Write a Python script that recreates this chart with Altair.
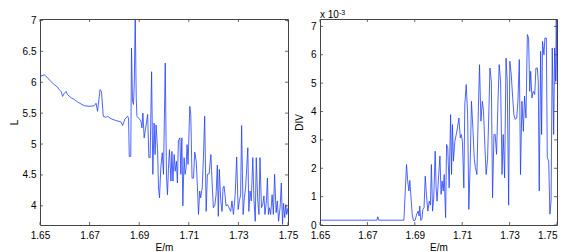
import altair as alt
import pandas as pd

# ---- data ----
e_left = [1.6500, 1.6505, 1.6517, 1.6531, 1.6544, 1.6558, 1.6571, 1.6578, 1.6585, 1.6591,
          1.6598, 1.6605, 1.6611, 1.6625, 1.6638, 1.6652, 1.6665, 1.6679, 1.6699, 1.6719,
          1.6726, 1.6732, 1.6742, 1.6748, 1.6755, 1.6766, 1.6772, 1.6786, 1.6806, 1.6826,
          1.6833, 1.6842, 1.6853, 1.6857, 1.6860, 1.6866, 1.6869, 1.6873, 1.6877, 1.6880,
          1.6884, 1.6888, 1.6891, 1.6900, 1.6907, 1.6911, 1.6915, 1.6920, 1.6928, 1.6934,
          1.6939, 1.6944, 1.6950, 1.6955, 1.6960, 1.6964, 1.6968, 1.6974, 1.6978, 1.6982,
          1.6987, 1.6993, 1.6998, 1.7005, 1.7010, 1.7014, 1.7018, 1.7022, 1.7028, 1.7032,
          1.7036, 1.7041, 1.7045, 1.7050, 1.7054, 1.7058, 1.7064, 1.7068, 1.7072, 1.7076,
          1.7081, 1.7085, 1.7089, 1.7093, 1.7097, 1.7104, 1.7108, 1.7113, 1.7119, 1.7124,
          1.7130, 1.7135, 1.7139, 1.7144, 1.7148, 1.7154, 1.7159, 1.7164, 1.7170, 1.7175,
          1.7182, 1.7189, 1.7194, 1.7199, 1.7205, 1.7210, 1.7215, 1.7219, 1.7223, 1.7229,
          1.7234, 1.7238, 1.7242, 1.7246, 1.7250, 1.7256, 1.7262, 1.7269, 1.7274, 1.7280,
          1.7287, 1.7293, 1.7299, 1.7304, 1.7309, 1.7313, 1.7319, 1.7324, 1.7329, 1.7338,
          1.7342, 1.7347, 1.7352, 1.7358, 1.7363, 1.7368, 1.7372, 1.7378, 1.7383, 1.7387,
          1.7393, 1.7398, 1.7403, 1.7407, 1.7413, 1.7417, 1.7421, 1.7425, 1.7430, 1.7436,
          1.7441, 1.7446, 1.7452, 1.7457, 1.7462, 1.7468, 1.7473, 1.7478, 1.7482, 1.7487,
          1.7491, 1.7495, 1.7500]
l_vals = [6.15, 6.10, 6.12, 6.07, 6.01, 5.96, 5.92, 5.88, 5.85, 5.77,
          5.82, 5.85, 5.80, 5.75, 5.72, 5.68, 5.65, 5.62, 5.61, 5.62,
          5.66, 5.53, 5.88, 5.85, 5.45, 5.43, 5.45, 5.41, 5.38, 5.36,
          5.30, 5.40, 5.45, 5.42, 4.80, 4.80, 6.55, 5.69, 5.64, 5.96,
          7.06, 5.75, 5.45, 5.41, 5.37, 5.26, 5.50, 5.10, 5.31, 5.48,
          4.78, 4.78, 6.17, 4.51, 5.34, 4.83, 5.31, 4.91, 4.29, 4.13,
          4.61, 4.86, 4.51, 6.31, 4.48, 4.18, 4.61, 4.91, 4.40, 4.88,
          4.40, 4.83, 4.56, 4.72, 4.37, 5.05, 5.10, 4.51, 5.10, 4.00,
          4.78, 4.51, 4.61, 4.99, 4.67, 5.61, 5.48, 4.45, 4.45, 4.87,
          4.72, 4.29, 3.86, 4.24, 4.13, 4.29, 4.78, 5.45, 3.91, 4.51,
          4.52, 4.83, 4.37, 3.97, 4.01, 4.18, 4.66, 3.83, 4.59, 4.08,
          3.91, 4.29, 4.32, 4.18, 4.00, 4.02, 3.97, 3.91, 4.08, 3.86,
          4.18, 4.79, 3.94, 4.08, 4.18, 5.30, 3.86, 4.13, 4.29, 4.94,
          3.91, 4.24, 4.08, 4.78, 4.08, 3.75, 4.78, 4.08, 3.86, 4.78,
          3.97, 4.02, 4.16, 3.86, 4.08, 4.45, 3.86, 3.97, 3.86, 4.18,
          3.86, 4.51, 3.89, 4.08, 3.75, 3.97, 4.37, 3.70, 4.04, 3.81,
          4.02, 3.86, 3.97]

e_right = [1.6500, 1.6740, 1.6744, 1.6748, 1.6854, 1.6865, 1.6870, 1.6875, 1.6879, 1.6883,
           1.6889, 1.6894, 1.6901, 1.6908, 1.6914, 1.6918, 1.6921, 1.6925, 1.6930, 1.6934,
           1.6939, 1.6944, 1.6949, 1.6955, 1.6961, 1.6966, 1.6970, 1.6975, 1.6980, 1.6986,
           1.6990, 1.6994, 1.7000, 1.7006, 1.7011, 1.7015, 1.7020, 1.7024, 1.7030, 1.7034,
           1.7039, 1.7045, 1.7051, 1.7055, 1.7059, 1.7063, 1.7069, 1.7075, 1.7080, 1.7086,
           1.7092, 1.7096, 1.7101, 1.7107, 1.7111, 1.7117, 1.7123, 1.7128, 1.7134, 1.7139,
           1.7145, 1.7151, 1.7156, 1.7162, 1.7168, 1.7173, 1.7179, 1.7185, 1.7190, 1.7196,
           1.7201, 1.7207, 1.7213, 1.7217, 1.7223, 1.7228, 1.7234, 1.7239, 1.7245, 1.7251,
           1.7256, 1.7262, 1.7268, 1.7273, 1.7279, 1.7285, 1.7290, 1.7296, 1.7301, 1.7307,
           1.7313, 1.7318, 1.7324, 1.7330, 1.7335, 1.7341, 1.7346, 1.7352, 1.7358, 1.7363,
           1.7369, 1.7375, 1.7380, 1.7385, 1.7389, 1.7394, 1.7400, 1.7406, 1.7411, 1.7417,
           1.7421, 1.7425, 1.7431, 1.7435, 1.7439, 1.7445, 1.7449, 1.7455, 1.7459, 1.7465,
           1.7470, 1.7475, 1.7480, 1.7486, 1.7490, 1.7494, 1.7497, 1.7500]
div_e3 = [0.17, 0.17, 0.29, 0.17, 0.17, 2.13, 1.55, 1.20, 1.57, 1.08,
          0.38, 0.16, 0.16, 0.38, 0.49, 0.32, 0.67, 0.16, 0.20, 0.55,
          0.61, 1.72, 1.08, 0.49, 0.84, 0.70, 2.13, 0.49, 0.96, 2.60,
          1.31, 0.84, 1.66, 2.43, 1.08, 1.55, 1.20, 1.78, 0.26, 2.84,
          2.72, 1.31, 3.89, 1.78, 3.54, 2.25, 2.95, 3.19, 3.42, 3.77,
          3.07, 3.19, 2.95, 1.31, 4.24, 4.95, 3.89, 0.55, 2.25, 4.36,
          3.42, 2.31, 2.02, 1.78, 4.01, 5.65, 3.66, 4.36, 4.01, 2.72,
          1.78, 2.31, 4.13, 5.53, 5.06, 0.96, 3.19, 3.19, 2.49, 4.36,
          5.65, 5.06, 1.78, 3.19, 1.66, 5.88, 5.06, 0.70, 5.77, 5.30,
          4.48, 3.89, 3.72, 3.77, 4.36, 5.83, 1.78, 4.36, 3.30, 4.54,
          3.77, 6.71, 6.59, 4.71, 5.42, 4.48, 4.71, 4.60, 5.53, 5.53,
          5.06, 1.20, 6.12, 3.19, 6.47, 6.00, 6.59, 6.59, 2.37, 2.25,
          0.38, 0.84, 6.24, 3.19, 6.24, 5.06, 7.23, 5.06]

x_ticks = [1.65, 1.67, 1.69, 1.71, 1.73, 1.75]
l_ticks = [4, 4.5, 5, 5.5, 6, 6.5, 7]
div_ticks = [0, 1, 2, 3, 4, 5, 6, 7]

# ---- style ----
W1, W2, H = 248, 237, 206
FONT = "Liberation Sans"
LINE = "#1f3dff"
FRAME = "#444444"
TL = 3

xscale = alt.Scale(domain=[1.65, 1.75], nice=False, zero=False)


def panel(df, yfield, ydomain, yticks, yfmt, ytitle, titlex, width, last_right=False, extra=()):
    yscale = alt.Scale(domain=ydomain, nice=False, zero=False)
    xkw = dict(values=x_ticks, format=".2f", title="E/m", labelPadding=5, titlePadding=2)
    if last_right:
        xkw["labelAlign"] = {"condition": {"test": "datum.value > 1.745", "value": "right"},
                             "value": "center"}
    xaxis = alt.Axis(**xkw)
    yaxis = alt.Axis(values=yticks, format=yfmt, title=ytitle,
                     titleX=titlex, titleBaseline="top", labelPadding=4)
    line = alt.Chart(df).mark_line(color=LINE, strokeWidth=0.8, clip=True).encode(
        x=alt.X("E:Q", scale=xscale, axis=xaxis),
        y=alt.Y(f"{yfield}:Q", scale=yscale, axis=yaxis),
        order=alt.Order("E:Q"),
    )
    xt = pd.DataFrame({"E": x_ticks})
    yt = pd.DataFrame({yfield: yticks})
    rs = dict(color=FRAME, strokeWidth=0.8)
    bot = alt.Chart(xt).mark_rule(**rs).encode(
        x=alt.X("E:Q", scale=xscale, axis=xaxis), y=alt.value(H), y2=alt.value(H - TL))
    top = alt.Chart(xt).mark_rule(**rs).encode(
        x=alt.X("E:Q", scale=xscale, axis=xaxis), y=alt.value(0), y2=alt.value(TL))
    lef = alt.Chart(yt).mark_rule(**rs).encode(
        y=alt.Y(f"{yfield}:Q", scale=yscale, axis=yaxis), x=alt.value(0), x2=alt.value(TL))
    rig = alt.Chart(yt).mark_rule(**rs).encode(
        y=alt.Y(f"{yfield}:Q", scale=yscale, axis=yaxis), x=alt.value(width), x2=alt.value(width - TL))
    return alt.layer(line, bot, top, lef, rig, *extra).properties(width=width, height=H)


df_l = pd.DataFrame({"E": e_left, "L": l_vals})
df_r = pd.DataFrame({"E": e_right, "DIV": div_e3})

exp_df = pd.DataFrame({"t": ["x 10"], "s": ["-3"]})
t_main = alt.Chart(exp_df).mark_text(align="left", baseline="alphabetic", fontSize=10,
                                     font=FONT, color="black").encode(
    text="t:N", x=alt.value(0), y=alt.value(-1))
t_sup = alt.Chart(exp_df).mark_text(align="left", baseline="alphabetic", fontSize=7,
                                    font=FONT, color="black").encode(
    text="s:N", x=alt.value(19), y=alt.value(-4))

left = panel(df_l, "L", [3.69, 7.023], l_ticks, "~g", "L", -31, W1)
right = panel(df_r, "DIV", [0, 7.26], div_ticks, "d", "DIV", -26, W2, last_right=True,
              extra=(t_main, t_sup))

chart = alt.hconcat(left, right, spacing=32, bounds="flush",
                    padding={"left": 0, "top": 0, "right": 0, "bottom": 0}).configure_view(
    stroke=FRAME, strokeWidth=1
).configure_axis(
    domain=False, ticks=False, tickSize=0, grid=False,
    labelFont=FONT, labelFontSize=10, labelColor="#000000", labelFlush=False,
    labelOverlap=False, labelBound=False,
    titleFont=FONT, titleFontSize=10, titleFontWeight="normal", titleColor="#000000",
)

chart.save("out.html", embed_options={"renderer": "svg", "actions": False})
